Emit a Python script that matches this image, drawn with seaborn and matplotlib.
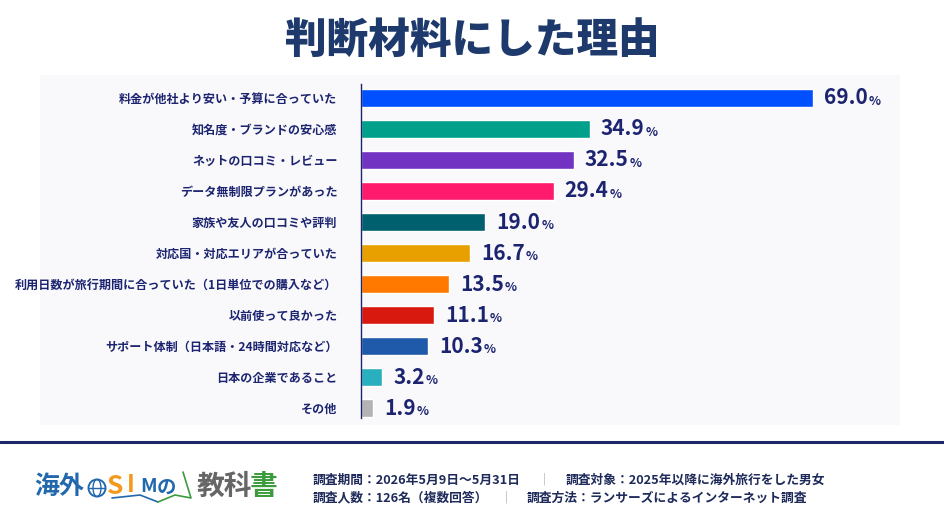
import numpy as np
import matplotlib
matplotlib.use("Agg")
import matplotlib.pyplot as plt
import matplotlib.patches as patches
import pandas as pd
import seaborn as sns

#------------------data-------------------
reasons = [
    "料金が他社より安い・予算に合っていた",
    "知名度・ブランドの安心感",
    "ネットの口コミ・レビュー",
    "データ無制限プランがあった",
    "家族や友人の口コミや評判",
    "対応国・対応エリアが合っていた",
    "利用日数が旅行期間に合っていた（1日単位での購入など）",
    "以前使って良かった",
    "サポート体制（日本語・24時間対応など）",
    "日本の企業であること",
    "その他",
]
shares = [69.0, 34.9, 32.5, 29.4, 19.0, 16.7, 13.5, 11.1, 10.3, 3.2, 1.9]
bar_colors = ["#0050ff", "#00a08a", "#7232c2", "#ff1a6e", "#00606e", "#e8a000",
              "#ff7800", "#d8190f", "#1f5aaa", "#2aafbf", "#b3b3b3"]

title = "判断材料にした理由"
footer_1 = ["調査期間：2026年5月9日～5月31日", "調査対象：2025年以降に海外旅行をした男女"]
footer_2 = ["調査人数：126名（複数回答）", "調査方法：ランサーズによるインターネット調査"]

NAVY = "#1c2470"
JP = ["Noto Sans CJK JP", "DejaVu Sans"]

sns.set_theme(style="white")
plt.rcParams['font.family'] = JP

W, H = 945, 532
fig = plt.figure(figsize=(W / 100, H / 100), dpi=100)
fig.patch.set_facecolor("white")

def fx(px):
    return px / W

def fy(py):
    return 1 - py / H

# faint panel behind the chart
fig.patches.append(patches.Rectangle((fx(40), fy(425)), 860 / W, 350 / H,
                                     transform=fig.transFigure, facecolor="#f9f9fb",
                                     edgecolor="none", zorder=-5))

ax_left, ax_right = 361, 900
ax = fig.add_axes([fx(ax_left), fy(418), (ax_right - ax_left) / W, 334 / H])
ax.set_facecolor("none")
ax.set_zorder(2)

df = pd.DataFrame({"reason": reasons, "share": shares})
sns.barplot(data=df, x="share", y="reason", hue="reason", palette=bar_colors,
            legend=False, width=0.58, ax=ax, saturation=1)

px_per_pct = 6.55
ax.set_xlim(0, (ax_right - ax_left) / px_per_pct)
ax.set_ylim(10.32, -0.45)
ax.set_xlabel("")
ax.set_ylabel("")
ax.set_xticks([])
for s in ["top", "right", "bottom"]:
    ax.spines[s].set_visible(False)
ax.spines["left"].set_color(NAVY)
ax.spines["left"].set_linewidth(1.0)
ax.tick_params(axis="y", length=0, pad=17)
for lab in ax.get_yticklabels():
    lab.set_fontsize(8.7)
    lab.set_fontweight("bold")
    lab.set_color(NAVY)
    lab.set_family(JP)

# value labels: big number + small %
fig.canvas.draw()
renderer = fig.canvas.get_renderer()
for i, v in enumerate(shares):
    t = ax.annotate(f"{v:.1f}", xy=(v, i), xytext=(8, 0), textcoords="offset points",
                    ha="left", va="center", fontsize=15, fontweight="bold",
                    color=NAVY, family=JP)
    bb = t.get_window_extent(renderer)
    x_end = ax.transData.inverted().transform((bb.x1, bb.y0))[0]
    ax.annotate("%", xy=(x_end, i), xytext=(0.5, -2.5), textcoords="offset points",
                ha="left", va="center", fontsize=9, fontweight="bold",
                color=NAVY, family=JP)

# title
fig.text(fx(472), fy(41), title, ha="center", va="center", fontsize=30,
         fontweight="heavy", color="#1e3a6c", family=JP)

# footer separator line
fig.add_artist(plt.Line2D([0, 1], [fy(442), fy(442)], transform=fig.transFigure,
                          color="#1e2668", lw=2.2))

# logo
BLUE, ORANGE, GREEN = "#2268ad", "#f39a1e", "#3c9b3c"
logo_y = fy(487)
fig.text(fx(34), logo_y, "海外", ha="left", va="center", fontsize=18, fontweight="bold",
         color=BLUE, family=JP)
# little globe
fig.add_artist(patches.Ellipse((fx(97), fy(488)), 17 / W, 17 / H, transform=fig.transFigure,
                               facecolor="none", edgecolor=BLUE, lw=1.4))
fig.add_artist(patches.Ellipse((fx(97), fy(488)), 8 / W, 17 / H, transform=fig.transFigure,
                               facecolor="none", edgecolor=BLUE, lw=1.0))
fig.add_artist(plt.Line2D([fx(89), fx(105)], [fy(488), fy(488)], transform=fig.transFigure,
                          color=BLUE, lw=1.0))
fig.text(fx(107), logo_y, "S", ha="left", va="center", fontsize=19, fontweight="bold",
         color=ORANGE, family=JP)
fig.text(fx(127), logo_y + 2 / H, "I", ha="left", va="center", fontsize=17, fontweight="bold",
         color=ORANGE, family=JP)
fig.text(fx(140), logo_y, "M", ha="left", va="center", fontsize=14, fontweight="bold",
         color=BLUE, family=JP)
fig.text(fx(157), logo_y - 1 / H, "の", ha="left", va="center", fontsize=14, fontweight="bold",
         color=BLUE, family=JP)
# open book outline
fig.add_artist(plt.Line2D([fx(112), fx(140), fx(158)], [fy(498), fy(495), fy(502)],
                          transform=fig.transFigure, color=BLUE, lw=1.2))
fig.add_artist(plt.Line2D([fx(158), fx(175), fx(191), fx(183)], [fy(502), fy(495), fy(498), fy(472)],
                          transform=fig.transFigure, color=GREEN, lw=1.2))
fig.text(fx(197), logo_y, "教科", ha="left", va="center", fontsize=20, fontweight="bold",
         color="#666666", family=JP)
fig.text(fx(250), logo_y, "書", ha="left", va="center", fontsize=20, fontweight="bold",
         color=GREEN, family=JP)

# footer texts
def footer_line(items, y, x0, sep_x, x1):
    fig.text(fx(x0), fy(y), items[0], ha="left", va="center", fontsize=9.2,
             fontweight="bold", color="#1e2a5a", family=JP)
    fig.text(fx(sep_x), fy(y), "｜", ha="center", va="center", fontsize=9,
             color="#9a9aaa", family=JP)
    fig.text(fx(x1), fy(y), items[1], ha="left", va="center", fontsize=9.2,
             fontweight="bold", color="#1e2a5a", family=JP)

footer_line(footer_1, 480, 313, 543, 566)
footer_line(footer_2, 498, 313, 505, 527)

fig.savefig("out.png", dpi=100)
